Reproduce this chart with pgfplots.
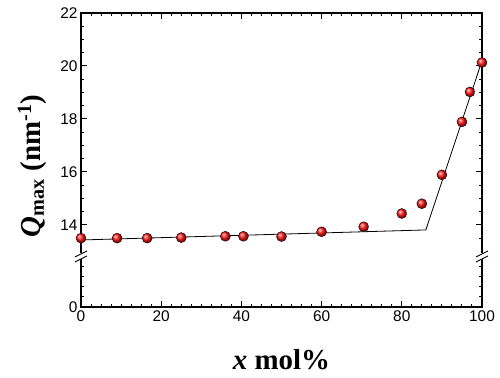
\documentclass[border=0pt]{standalone}
\usepackage{fontspec}
\setmainfont{Liberation Serif}
\newfontfamily\tickfont{Liberation Sans}
\usepackage{pgfplots}
\pgfplotsset{compat=1.18}
\usetikzlibrary{calc}
\begin{document}
\begin{tikzpicture}
\begin{axis}[
  scale only axis, width=401bp, height=294bp,
  xmin=0, xmax=100, ymin=10.9, ymax=22,
  xtick={0,20,...,100}, minor x tick num=7,
  ytick={10.9,14,16,18,20,22}, yticklabels={0,14,16,18,20,22},
  minor ytick={11.28,11.66,12.04,12.42,13.5,14.5,15,15.5,16.5,17,17.5,18.5,19,19.5,20.5,21,21.5},
  tick align=inside, major tick length=6bp, minor tick length=3.5bp,
  axis line style={line width=1.3bp},
  tick style={black, line width=1bp},
  ticklabel style={font=\tickfont\fontsize{15.5}{15.5}\selectfont},
  /pgf/number format/assume math mode=true,
  every axis x label/.style={at={(axis description cs:0.5,-0.211)}, anchor=base},
  every axis y label/.style={at={(axis description cs:-0.102,0.48)}, rotate=90, anchor=base},
  xlabel={\textbf{\textit{x} mol\%}},
  ylabel={\textbf{\textit{Q}\textsubscript{max} (nm\textsuperscript{-1})}},
  label style={font=\fontsize{29}{29}\selectfont},
  clip=false,
]
\addplot[black, line width=0.8bp] coordinates {(0,13.43) (86,13.81) (100,20.2)};
\addplot[only marks, mark=ball, mark size=5bp, mark options={ball color=red!92!white}] coordinates {
(0,13.50) (9,13.50) (16.5,13.50) (25,13.52) (36,13.57) (40.5,13.57) (50,13.56)
(60,13.74) (70.5,13.93) (80,14.43) (85,14.80) (90,15.89) (95,17.89) (97,19.02) (100,20.13)};
% axis breaks
\fill[white] ($(axis cs:0,12.83)+(-2bp,-3bp)$) rectangle ($(axis cs:0,12.83)+(2bp,3bp)$);
\draw[line width=0.9bp] ($(axis cs:0,12.83)+(-6bp,-6bp)$) -- ++(12bp,6bp);
\draw[line width=0.9bp] ($(axis cs:0,12.83)+(-6bp,-1bp)$) -- ++(12bp,6bp);
\fill[white] ($(axis cs:100,12.83)+(-2bp,-3bp)$) rectangle ($(axis cs:100,12.83)+(2bp,3bp)$);
\draw[line width=0.9bp] ($(axis cs:100,12.83)+(-6bp,-6bp)$) -- ++(12bp,6bp);
\draw[line width=0.9bp] ($(axis cs:100,12.83)+(-6bp,-1bp)$) -- ++(12bp,6bp);
\end{axis}
\path ($(current axis.south west)+(-81bp,-71bp)$) rectangle ($(current axis.north east)+(18bp,13bp)$);
\end{tikzpicture}
\end{document}
